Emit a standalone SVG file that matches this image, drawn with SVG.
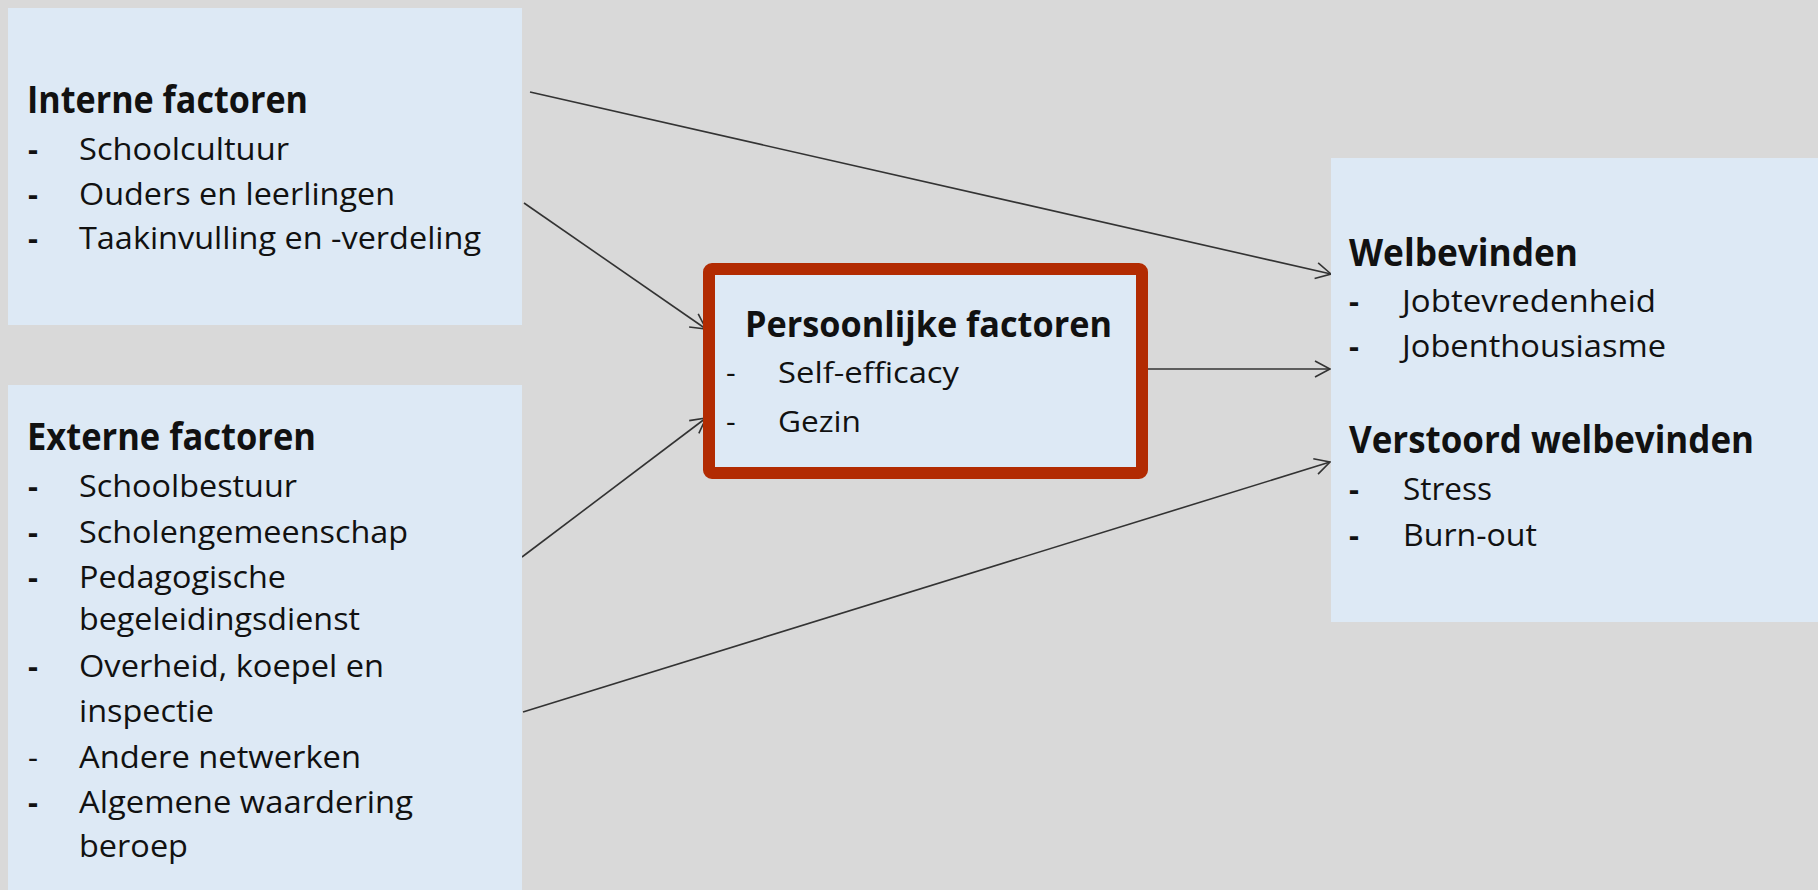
<svg xmlns="http://www.w3.org/2000/svg" width="1818" height="890" viewBox="0 0 1818 890">
<defs>
<style>
.box{fill:#DDE9F5;}
.t{font-family:"Open Sans","Liberation Sans",sans-serif;fill:#111;}
.h{font-weight:700;font-size:38px;}
.i{font-weight:400;font-size:31px;}
.d{font-weight:700;}
.m{font-weight:400;font-size:30px;}
.mh{font-weight:700;font-size:36px;}
.c{fill:none;stroke:#333;stroke-width:1.6;}
</style>
<marker id="arr" markerUnits="userSpaceOnUse" markerWidth="24" markerHeight="24" refX="18" refY="12" orient="auto">
<path d="M3,4 L18,12 L3,20" fill="none" stroke="#333" stroke-width="1.6"/>
</marker>
</defs>
<rect width="1818" height="890" fill="#D9D9D9"/>

<g id="connectors">
<line class="c" x1="530" y1="92" x2="1331" y2="274" marker-end="url(#arr)"/>
<line class="c" x1="524" y1="203" x2="706" y2="329" marker-end="url(#arr)"/>
<line class="c" x1="522" y1="557" x2="706" y2="418" marker-end="url(#arr)"/>
<line class="c" x1="1148" y1="369" x2="1330" y2="369" marker-end="url(#arr)"/>
<line class="c" x1="523" y1="712" x2="1330" y2="462" marker-end="url(#arr)"/>
</g>

<g id="interne">
<rect class="box" x="8" y="8" width="514" height="317"/>
<text class="t h" x="27" y="113" textLength="281" lengthAdjust="spacingAndGlyphs">Interne factoren</text>
<text class="t i d" x="28" y="160">-</text>
<text class="t i" x="79" y="160" textLength="210" lengthAdjust="spacingAndGlyphs">Schoolcultuur</text>
<text class="t i d" x="28" y="205">-</text>
<text class="t i" x="79" y="205" textLength="316" lengthAdjust="spacingAndGlyphs">Ouders en leerlingen</text>
<text class="t i d" x="28" y="249">-</text>
<text class="t i" x="79" y="249" textLength="402" lengthAdjust="spacingAndGlyphs">Taakinvulling en -verdeling</text>
</g>

<g id="externe">
<rect class="box" x="8" y="385" width="514" height="510"/>
<text class="t h" x="27" y="450" textLength="289" lengthAdjust="spacingAndGlyphs">Externe factoren</text>
<text class="t i d" x="28" y="497">-</text>
<text class="t i" x="79" y="497" textLength="218" lengthAdjust="spacingAndGlyphs">Schoolbestuur</text>
<text class="t i d" x="28" y="543">-</text>
<text class="t i" x="79" y="543" textLength="329" lengthAdjust="spacingAndGlyphs">Scholengemeenschap</text>
<text class="t i d" x="28" y="588">-</text>
<text class="t i" x="79" y="588" textLength="207" lengthAdjust="spacingAndGlyphs">Pedagogische</text>
<text class="t i" x="79" y="630" textLength="281" lengthAdjust="spacingAndGlyphs">begeleidingsdienst</text>
<text class="t i d" x="28" y="677">-</text>
<text class="t i" x="79" y="677" textLength="305" lengthAdjust="spacingAndGlyphs">Overheid, koepel en</text>
<text class="t i" x="79" y="722" textLength="135" lengthAdjust="spacingAndGlyphs">inspectie</text>
<text class="t i" x="28" y="768">-</text>
<text class="t i" x="79" y="768" textLength="282" lengthAdjust="spacingAndGlyphs">Andere netwerken</text>
<text class="t i d" x="28" y="813">-</text>
<text class="t i" x="79" y="813" textLength="334" lengthAdjust="spacingAndGlyphs">Algemene waardering</text>
<text class="t i" x="79" y="857" textLength="109" lengthAdjust="spacingAndGlyphs">beroep</text>
</g>

<g id="persoonlijke">
<rect class="box" x="709" y="269" width="433" height="204" rx="3" stroke="#B22B02" stroke-width="12"/>
<text class="t mh" x="745" y="337" textLength="367" lengthAdjust="spacingAndGlyphs">Persoonlijke factoren</text>
<text class="t m" x="726" y="383">-</text>
<text class="t m" x="778" y="383" textLength="181" lengthAdjust="spacingAndGlyphs">Self-efficacy</text>
<text class="t m d" x="726" y="432">-</text>
<text class="t m" x="778" y="432" textLength="83" lengthAdjust="spacingAndGlyphs">Gezin</text>
</g>

<g id="welbevinden">
<rect class="box" x="1331" y="158" width="490" height="464"/>
<text class="t h" x="1349" y="266" textLength="229" lengthAdjust="spacingAndGlyphs">Welbevinden</text>
<text class="t i d" x="1349" y="312">-</text>
<text class="t i" x="1402" y="312" textLength="254" lengthAdjust="spacingAndGlyphs">Jobtevredenheid</text>
<text class="t i d" x="1349" y="357">-</text>
<text class="t i" x="1402" y="357" textLength="264" lengthAdjust="spacingAndGlyphs">Jobenthousiasme</text>
<text class="t h" x="1349" y="453" textLength="405" lengthAdjust="spacingAndGlyphs">Verstoord welbevinden</text>
<text class="t i d" x="1349" y="500">-</text>
<text class="t i" x="1403" y="500" textLength="89" lengthAdjust="spacingAndGlyphs">Stress</text>
<text class="t i d" x="1349" y="546">-</text>
<text class="t i" x="1403" y="546" textLength="134" lengthAdjust="spacingAndGlyphs">Burn-out</text>
</g>
</svg>
